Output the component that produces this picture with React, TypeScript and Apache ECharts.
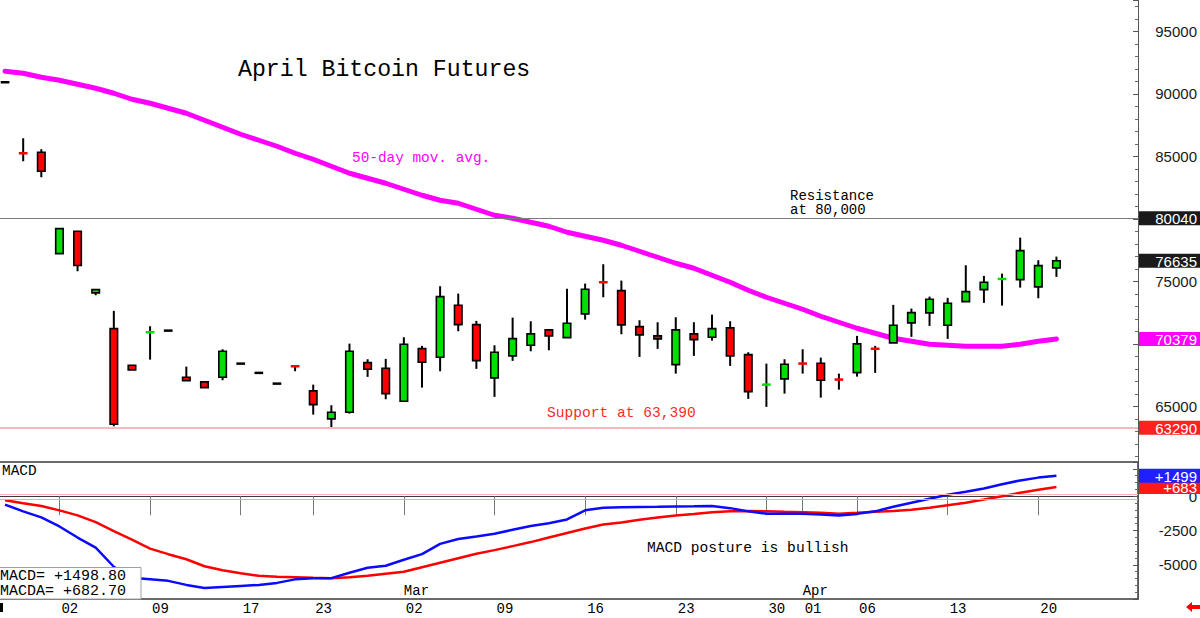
import React, { useEffect, useRef } from 'react';
import * as echarts from 'echarts';

// ---- trading sessions (CME April Bitcoin futures) ----
const tradingDays = [
  '2026-01-28', '2026-01-29', '2026-01-30',
  '2026-02-02', '2026-02-03', '2026-02-04', '2026-02-05', '2026-02-06',
  '2026-02-09', '2026-02-10', '2026-02-11', '2026-02-12', '2026-02-13',
  '2026-02-17', '2026-02-18', '2026-02-19', '2026-02-20',
  '2026-02-23', '2026-02-24', '2026-02-25', '2026-02-26', '2026-02-27',
  '2026-03-02', '2026-03-03', '2026-03-04', '2026-03-05', '2026-03-06',
  '2026-03-09', '2026-03-10', '2026-03-11', '2026-03-12', '2026-03-13',
  '2026-03-16', '2026-03-17', '2026-03-18', '2026-03-19', '2026-03-20',
  '2026-03-23', '2026-03-24', '2026-03-25', '2026-03-26', '2026-03-27',
  '2026-03-30', '2026-03-31', '2026-04-01', '2026-04-02', '2026-04-03',
  '2026-04-06', '2026-04-07', '2026-04-08', '2026-04-09', '2026-04-10',
  '2026-04-13', '2026-04-14', '2026-04-15', '2026-04-16', '2026-04-17',
  '2026-04-20', '2026-04-21',
];
// blank sessions kept on the right of the last bar
const futureDays = ['2026-04-22', '2026-04-23', '2026-04-24', '2026-04-27'];

const labeledDays = [
  '2026-02-02', '2026-02-09', '2026-02-17', '2026-02-23', '2026-03-02', '2026-03-09',
  '2026-03-16', '2026-03-23', '2026-03-30', '2026-04-01', '2026-04-06', '2026-04-13', '2026-04-20',
];
const monthStarts: Record<string, string> = { '2026-03-02': 'Mar', '2026-04-01': 'Apr' };

// ---- OHLC ----
const opens = [
  90920, 85260, 85320, 77210, 79000, 74070, 71210, 68280, 70900, 71050,
  67320, 66950, 67320, 68410, 67670, 66810, 68220, 66230, 63990, 64520,
  68490, 68040, 65400, 69610, 68920, 73080, 71530, 67270, 69030, 69880,
  71110, 70490, 72390, 74940, 74250, 71370, 70630, 68330, 70790, 70520,
  71270, 69130, 66710, 67190, 68430, 68440, 67150, 67690, 69640, 70070,
  71670, 72470, 71480, 73370, 74330, 75150, 75130, 74550, 76070,
];
const closes = [
  90920, 85220, 83800, 79210, 76260, 74330, 63560, 67910, 70940, 71050,
  67050, 66490, 69400, 68410, 67670, 66810, 68180, 65130, 64520, 69400,
  67960, 66010, 69960, 68520, 73770, 71530, 68650, 69320, 70410, 70790,
  70630, 71640, 74360, 74900, 71510, 70710, 70390, 71110, 70330, 71210,
  69030, 66170, 66750, 68360, 68400, 67080, 67120, 69990, 69560, 71480,
  72490, 73560, 73240, 74170, 74920, 75220, 77450, 76250, 76635,
];
const highs = [
  90920, 86440, 85560, 79250, 79000, 74330, 72630, 68280, 71400, 71050,
  68170, 66950, 69560, 68410, 67670, 66810, 68220, 66730, 65080, 70010,
  68760, 68790, 70520, 69830, 74600, 74010, 71830, 69880, 72090, 71800,
  71110, 74410, 74810, 76360, 75050, 71880, 71720, 72120, 71720, 72330,
  71800, 69320, 68410, 68760, 69560, 68890, 67610, 70630, 69830, 73110,
  72810, 73770, 73670, 76280, 75430, 75610, 78490, 76680, 76970,
];
const lows = [
  90920, 84600, 83320, 77180, 75800, 73880, 63400, 67910, 68730, 71050,
  67050, 66490, 67080, 68410, 67670, 66810, 67800, 64330, 63270, 64410,
  67350, 65560, 65400, 66490, 67800, 71000, 67990, 65750, 68630, 69400,
  69480, 70490, 71930, 73720, 70760, 68950, 69590, 67610, 69030, 70250,
  68230, 65590, 64950, 66010, 67610, 65690, 66330, 67370, 67670, 70070,
  70550, 71430, 70390, 73370, 73270, 73050, 74490, 73640, 75350,
];

// 50-day moving average
const ma50 = [
  91800, 91640, 91320, 91080, 90760, 90440, 90040, 89560, 89240, 88840,
  88440, 87880, 87320, 86760, 86280, 85800, 85240, 84760, 84200, 83640,
  83240, 82840, 82360, 81880, 81480, 81240, 80760, 80280, 80040, 79720,
  79400, 78920, 78600, 78280, 77880, 77400, 76920, 76440, 76040, 75480,
  74920, 74280, 73720, 73240, 72760, 72200, 71720, 71240, 70840, 70440,
  70200, 69960, 69880, 69800, 69800, 69800, 69960, 70200, 70379,
];

// MACD line and its average (MACDA)
const macd = [
  -610, -1103, -1544, -2206, -3015, -3750, -5147, -5956, -6066, -6176,
  -6471, -6691, -6618, -6544, -6471, -6324, -6066, -5993, -5978, -5588,
  -5221, -5074, -4632, -4228, -3478, -3125, -2941, -2743, -2449, -2169,
  -1971, -1691, -1029, -846, -809, -787, -772, -750, -735, -713,
  -868, -1103, -1272, -1272, -1272, -1324, -1397, -1287, -1103, -772,
  -478, -184, 110, 331, 566, 882, 1154, 1360, 1498.8,
];
const macdAvg = [
  -294, -515, -713, -1029, -1397, -1890, -2537, -3162, -3824, -4228,
  -4596, -5110, -5404, -5625, -5809, -5882, -5919, -5956, -5978, -5919,
  -5809, -5662, -5515, -5184, -4853, -4522, -4191, -3934, -3640, -3346,
  -3015, -2684, -2353, -2059, -1912, -1713, -1544, -1397, -1287, -1176,
  -1103, -1081, -1103, -1140, -1176, -1213, -1272, -1213, -1140, -1081,
  -993, -846, -662, -478, -243, 0, 257, 478, 682.7,
];

// horizontal levels
const resistanceLevel = 80040;
const supportLevel = 63290;
const macdGuideLevels = [160, -200]; // [MACDA guide, MACD guide]

const MONO = '"Liberation Mono", "DejaVu Sans Mono", monospace';
const SANS = '"Liberation Sans", Arial, sans-serif';
const UP = '#00e000';
const DOWN = '#ff0000';
const FLAT = '#000000';
const HIDDEN_LINE = { color: 'rgba(0,0,0,0)', width: 0 };

const last = (a: number[]) => a[a.length - 1];
const signed = (v: number, digits = 0) => (v >= 0 ? '+' : '') + v.toFixed(digits);

// price-scale levels that carry a value tag on the right axis
const taggedPrices = [resistanceLevel, supportLevel, last(ma50), last(closes)];

function renderCandle(_params: any, api: any) {
  const i = api.value(0);
  const o = api.value(1);
  const c = api.value(2);
  const l = api.value(3);
  const h = api.value(4);
  const [x, yo] = api.coord([i, o]);
  const yc = api.coord([i, c])[1];
  const yl = api.coord([i, l])[1];
  const yh = api.coord([i, h])[1];
  const half = 3.75;
  const color = c > o ? UP : c < o ? DOWN : FLAT;
  const children: any[] = [];
  if (yl - yh > 0.5) {
    children.push({
      type: 'line',
      shape: { x1: x, y1: yh, x2: x, y2: yl },
      style: { stroke: '#000', lineWidth: 2 },
    });
  }
  const top = Math.min(yo, yc);
  const bot = Math.max(yo, yc);
  if (bot - top >= 2) {
    children.push({
      type: 'rect',
      shape: { x: x - half, y: top, width: half * 2, height: bot - top },
      style: { fill: color, stroke: '#000', lineWidth: 1.6 },
    });
  } else {
    const ym = (top + bot) / 2;
    children.push({
      type: 'line',
      shape: { x1: x - half - 0.6, y1: ym, x2: x + half + 0.6, y2: ym },
      style: { stroke: color, lineWidth: 2.5 },
    });
  }
  return { type: 'group', children };
}

// value tag drawn at the right edge of a horizontal level
function tag(value: number, text: string, bg: string, lineStyle?: any) {
  return {
    yAxis: value,
    lineStyle: lineStyle ?? HIDDEN_LINE,
    label: {
      show: true,
      position: 'end',
      distance: 1,
      formatter: `{v|${text}}`,
      backgroundColor: bg,
      padding: [1, 3, 0, 2],
      rich: {
        v: { width: 56, align: 'right', color: '#fff', fontSize: 15, fontFamily: SANS, lineHeight: 13 },
      },
    },
  };
}

const axisDays = [...tradingDays, ...futureDays];

const rightAxisCommon = {
  type: 'value',
  position: 'right',
  axisLine: { show: true, lineStyle: { color: '#555', width: 1 } },
  axisTick: { show: true, inside: true, length: 5, lineStyle: { color: '#555' } },
  minorTick: { show: true, splitNumber: 5, length: 3, lineStyle: { color: '#666' } },
  splitLine: { show: false },
  axisLabel: {
    align: 'right',
    margin: 59,
    fontSize: 15,
    fontFamily: SANS,
    color: '#1a1a1a',
    showMinLabel: false,
    showMaxLabel: false,
    formatter: (v: number) => String(v),
  },
};

const option: any = {
  animation: false,
  backgroundColor: '#ffffff',
  grid: [
    { left: -4, right: 62, top: 0, bottom: 149.25, outerBoundsMode: 'none' },
    {
      left: -4, right: 62, top: 462, bottom: 19, outerBoundsMode: 'none',
      show: true, borderColor: '#3a3a3a', borderWidth: 1.5, backgroundColor: 'transparent',
    },
  ],
  xAxis: [
    { type: 'category', gridIndex: 0, data: axisDays, boundaryGap: true, show: false },
    {
      type: 'category', gridIndex: 1, data: axisDays, boundaryGap: true, position: 'bottom',
      axisLine: { show: true, lineStyle: { color: '#3a3a3a', width: 1 } },
      axisTick: {
        show: true, alignWithLabel: true, length: 19,
        interval: (_i: number, v: string) => labeledDays.includes(v),
        lineStyle: { color: '#777' },
      },
      axisLabel: {
        interval: (_i: number, v: string) => labeledDays.includes(v),
        formatter: (v: string) => v.slice(8),
        align: 'left',
        margin: 3,
        padding: [0, 0, 0, 2],
        fontSize: 14,
        fontFamily: MONO,
        color: '#000',
      },
    },
    {
      type: 'category', gridIndex: 1, data: axisDays, boundaryGap: true, position: 'bottom', offset: 0,
      axisLine: { show: false }, axisTick: { show: false },
      axisLabel: {
        inside: true,
        interval: (_i: number, v: string) => v in monthStarts,
        formatter: (v: string) => monthStarts[v] ?? '',
        align: 'left',
        margin: 1,
        fontSize: 14,
        fontFamily: MONO,
        color: '#000',
      },
    },
  ],
  yAxis: [
    {
      ...rightAxisCommon, gridIndex: 0, min: 60000, max: 97500, interval: 5000,
      axisLabel: {
        ...rightAxisCommon.axisLabel,
        // the value tags sit over the round-number labels they cover
        formatter: (v: number) => (taggedPrices.some((t) => Math.abs(t - v) < 1000) ? '' : String(v)),
      },
    },
    { ...rightAxisCommon, gridIndex: 1, min: -7500, max: 2500, interval: 2500 },
  ],
  series: [
    {
      name: '50-day mov. avg.',
      type: 'line',
      xAxisIndex: 0, yAxisIndex: 0,
      data: ma50,
      symbol: 'none',
      z: 2,
      lineStyle: { color: '#ff00ff', width: 5, join: 'round', cap: 'round' },
      markLine: {
        symbol: ['none', 'none'],
        silent: true,
        animation: false,
        data: [
          tag(resistanceLevel, String(resistanceLevel), '#1a1a1a', { color: '#7a7a7a', width: 1, type: 'solid' }),
          tag(supportLevel, String(supportLevel), '#ff2020', { color: '#f7b8b8', width: 2, type: 'solid' }),
          tag(last(ma50), String(last(ma50)), '#ff00ff'),
          tag(last(closes), String(last(closes)), '#1a1a1a'),
        ],
      },
    },
    {
      name: 'April Bitcoin Futures',
      type: 'custom',
      xAxisIndex: 0, yAxisIndex: 0,
      data: tradingDays.map((_d, i) => [i, opens[i], closes[i], lows[i], highs[i]]),
      encode: { x: 0, y: [1, 2, 3, 4] },
      renderItem: renderCandle,
      z: 3,
    },
    {
      name: 'MACDA',
      type: 'line',
      xAxisIndex: 1, yAxisIndex: 1,
      data: macdAvg,
      symbol: 'none',
      z: 2,
      lineStyle: { color: '#ff0000', width: 2.5 },
      markLine: {
        symbol: ['none', 'none'],
        silent: true,
        animation: false,
        data: [
          { yAxis: macdGuideLevels[0], lineStyle: { color: '#ffb4b4', width: 1, type: 'solid' }, label: { show: false } },
          tag(last(macdAvg), signed(Math.round(last(macdAvg))), '#ff1a1a'),
        ],
      },
    },
    {
      name: 'MACD',
      type: 'line',
      xAxisIndex: 1, yAxisIndex: 1,
      data: macd,
      symbol: 'none',
      z: 4,
      lineStyle: { color: '#0a0aff', width: 2.5 },
      markLine: {
        symbol: ['none', 'none'],
        silent: true,
        animation: false,
        data: [
          { yAxis: macdGuideLevels[1], lineStyle: { color: '#b4b4ff', width: 1, type: 'solid' }, label: { show: false } },
          tag(last(macd), signed(Math.round(last(macd))), '#2020ff'),
        ],
      },
    },
  ],
  graphic: [
    {
      type: 'text', x: 238, y: 70, z: 10,
      style: { text: 'April Bitcoin Futures', font: `23.2px ${MONO}`, fill: '#000', textVerticalAlign: 'middle', verticalAlign: 'middle' },
    },
    {
      type: 'text', x: 352, y: 158, z: 10,
      style: { text: '50-day mov. avg.', font: `14.4px ${MONO}`, fill: '#ff00ff', textVerticalAlign: 'middle', verticalAlign: 'middle' },
    },
    {
      type: 'text', x: 790, y: 188.5, z: 10,
      style: { text: 'Resistance\nat 80,000', font: `14px ${MONO}`, lineHeight: 14.5, fill: '#000', textVerticalAlign: 'top', verticalAlign: 'top' },
    },
    {
      type: 'text', x: 547, y: 413, z: 10,
      style: { text: 'Support at 63,390', font: `14.6px ${MONO}`, fill: '#ff2a2a', textVerticalAlign: 'middle', verticalAlign: 'middle' },
    },
    {
      type: 'text', x: 647, y: 548, z: 10,
      style: { text: 'MACD posture is bullish', font: `14.6px ${MONO}`, fill: '#000', textVerticalAlign: 'middle', verticalAlign: 'middle' },
    },
    {
      type: 'text', x: 2, y: 471, z: 10,
      style: { text: 'MACD', font: `14.4px ${MONO}`, fill: '#000', textVerticalAlign: 'middle', verticalAlign: 'middle' },
    },
    // MACD readout box
    {
      type: 'rect', z: 10,
      shape: { x: -1, y: 567.5, width: 142, height: 31.5 },
      style: { fill: '#ffffff', stroke: '#a0a0a0', lineWidth: 1 },
    },
    {
      type: 'text', x: 0, y: 568.5, z: 11,
      style: {
        text: `MACD= ${signed(last(macd), 2)}\nMACDA= ${signed(last(macdAvg), 2)}`,
        font: `15px ${MONO}`, lineHeight: 15.5, fill: '#000', textVerticalAlign: 'top', verticalAlign: 'top',
      },
    },
    // clipped marker at the left end of the date row
    { type: 'rect', z: 10, shape: { x: 0, y: 603, width: 3, height: 9 }, style: { fill: '#000' } },
    // scroll arrow in the bottom-right corner
    {
      type: 'polygon', z: 10,
      shape: { points: [[1186, 607], [1192, 602], [1192, 605], [1200, 605], [1200, 609], [1192, 609], [1192, 612]] },
      style: { fill: '#ff0000' },
    },
  ],
};

export default function App() {
  const ref = useRef<HTMLDivElement>(null);
  useEffect(() => {
    document.body.style.margin = '0';
    const chart = echarts.init(ref.current!, null, { renderer: 'svg' });
    chart.setOption(option);
    return () => chart.dispose();
  }, []);
  return (
    <div
      ref={ref}
      style={{ position: 'fixed', left: 0, top: 0, width: 1200, height: 618, background: '#fff' }}
    />
  );
}
